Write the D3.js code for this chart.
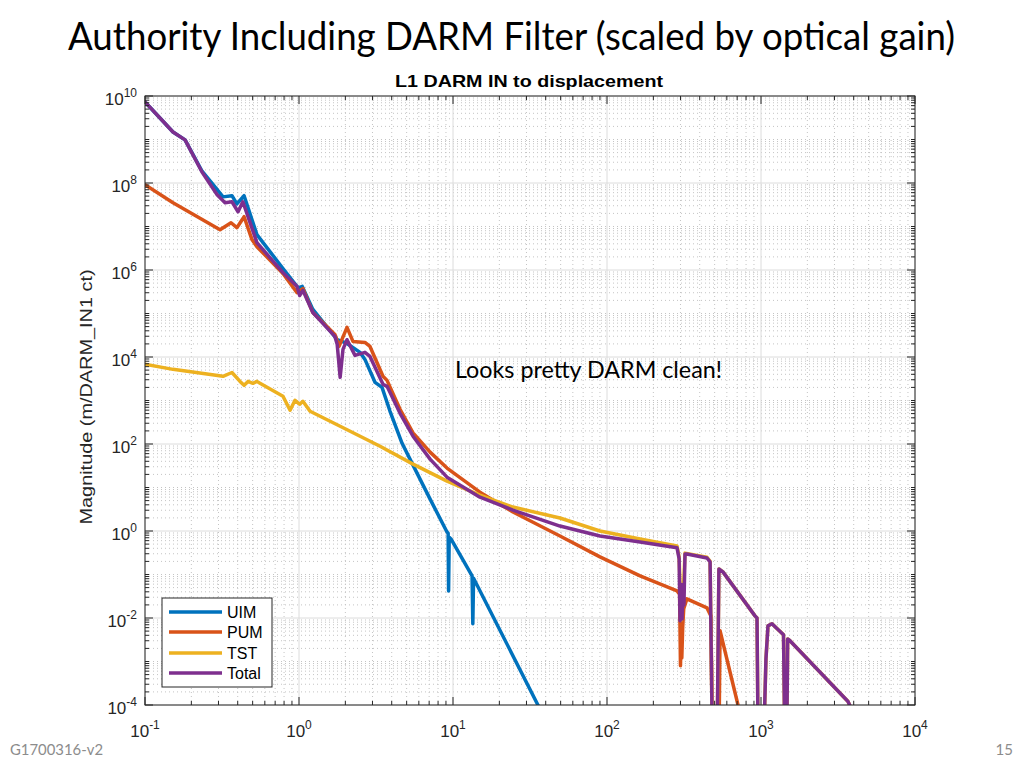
<!DOCTYPE html>
<html><head><meta charset="utf-8">
<script src="https://cdn.jsdelivr.net/npm/d3@7"></script>
<style>body{margin:0;background:#fff;} svg{display:block;}</style>
</head><body>
<svg id="chart" width="1024" height="768"></svg>
<script>
// ---------------- data ----------------
const seriesNames = ["UIM", "PUM", "TST", "Total"];
const seriesColors = ["#0072BD", "#D95319", "#EDB120", "#7E2F8E"];

const uimFreq = [0.1, 0.152, 0.182, 0.234, 0.272, 0.321, 0.367, 0.395, 0.44, 0.533, 0.787, 0.987, 1.05, 1.23, 1.77, 2.05, 2.49, 2.68, 3.12, 3.46, 3.9, 4.67, 5.5, 7.1, 9.14, 9.3, 9.36, 9.45, 9.7, 13.3, 13.45, 13.6, 35.6, 40];
const uimMag  = [7.3e9, 1.49e9, 9.8e8, 1.9e8, 1.0e8, 4.8e7, 5.1e7, 3.3e7, 5.1e7, 6.5e6, 1.08e6, 3.9e5, 4.2e5, 1.24e5, 2.5e4, 2.05e4, 1.28e4, 8.8e3, 2.6e3, 2.0e3, 565, 104, 32.7, 5.4, 0.95, 0.88, 0.042, 0.72, 0.656, 0.093, 0.0074, 0.082, 1e-4, 4.6e-5];

const pumFreq = [0.1, 0.152, 0.307, 0.362, 0.395, 0.44, 0.495, 0.533, 0.787, 0.971, 1.06, 1.23, 1.71, 1.82, 2.05, 2.24, 2.68, 2.89, 3.51, 3.73, 4.53, 5.5, 7.1, 9.14, 14.96, 24.5, 49.5, 90, 164, 285, 296, 300, 303, 306, 310, 315, 330, 446, 473, 488, 530, 542, 709, 753];
const pumMag  = [9.1e7, 3.5e7, 8.4e6, 1.22e7, 9.4e6, 1.68e7, 5.0e6, 3.44e6, 8.3e5, 3.0e5, 3.74e5, 1.05e5, 3.3e4, 1.75e4, 4.8e4, 2.28e4, 2.16e4, 1.75e4, 3.6e3, 2.9e3, 628, 180, 65, 28, 7.8, 2.73, 0.77, 0.254, 0.093, 0.042, 0.035, 8e-4, 0.004, 1.2e-3, 0.006, 0.0163, 0.0275, 0.0171, 0.0112, 1e-6, 1e-6, 0.0051, 1e-4, 4.9e-5];

const tstFreq = [0.1, 0.152, 0.321, 0.367, 0.414, 0.44, 0.467, 0.502, 0.533, 0.558, 0.787, 0.875, 0.942, 1.01, 1.06, 1.18, 1.85, 3.36, 5.5, 9.14, 14.96, 24.5, 49.5, 90, 164, 285, 294, 303, 312, 321, 446, 467, 488, 515, 533, 566, 914, 942, 965, 1020, 1077, 1110, 1178, 1400, 1440, 1460, 1490, 1542, 3673, 3785];
const tstMag  = [6.8e3, 5.2e3, 3.6e3, 4.4e3, 2.75e3, 2.23e3, 2.75e3, 2.48e3, 2.75e3, 2.48e3, 1.25e3, 596, 1.01e3, 819, 960, 565, 256, 89, 34.4, 14, 6.7, 3.55, 1.99, 1.0, 0.656, 0.45, 0.25, 0.009, 0.03, 0.31, 0.25, 0.2, 1e-6, 1e-6, 0.134, 0.115, 0.0112, 0.01, 1e-6, 1e-6, 0.00115, 0.0066, 0.0074, 0.0041, 1e-6, 1e-6, 0.0033, 0.003, 1.2e-4, 9.5e-5];

const totFreq = [0.1, 0.152, 0.182, 0.234, 0.294, 0.331, 0.367, 0.402, 0.432, 0.533, 0.787, 0.971, 1.01, 1.06, 1.23, 1.71, 1.77, 1.85, 1.93, 2.05, 2.31, 2.68, 2.89, 3.51, 3.73, 4.53, 5.5, 7.1, 9.14, 14.96, 24.5, 49.5, 90, 164, 285, 294, 298, 303, 307, 312, 316, 321, 330, 446, 467, 488, 515, 533, 566, 914, 942, 965, 1020, 1077, 1110, 1178, 1400, 1440, 1460, 1490, 1542, 3673, 3785];
const totMag  = [7.3e9, 1.49e9, 9.8e8, 1.81e8, 5.36e7, 3.5e7, 3.7e7, 2.18e7, 3.7e7, 4.25e6, 8.7e5, 4.16e5, 2.6e5, 3.4e5, 1.05e5, 2.97e4, 1.95e4, 3.4e3, 1.5e4, 2.5e4, 1.09e4, 1.28e4, 1.03e4, 2.35e3, 2.12e3, 508, 151, 44.8, 17.3, 6.0, 3.03, 1.30, 0.77, 0.56, 0.41, 0.228, 0.0086, 0.06, 0.0095, 0.05, 0.02, 0.296, 0.296, 0.24, 0.195, 1e-6, 1e-6, 0.134, 0.115, 0.0112, 0.01, 1e-6, 1e-6, 0.00115, 0.0066, 0.0074, 0.0041, 1e-6, 1e-6, 0.0033, 0.003, 1.2e-4, 9.5e-5];

const xTickValues = [0.1, 1, 10, 100, 1000, 10000];
const xTickExps = ["-1", "0", "1", "2", "3", "4"];
const yTickValues = [1e-4, 1e-2, 1, 1e2, 1e4, 1e6, 1e8, 1e10];
const yTickExps = ["-4", "-2", "0", "2", "4", "6", "8", "10"];

const titleText = "Authority Including DARM Filter (scaled by optical gain)";
const subtitleText = "L1 DARM IN to displacement";
const yLabelText = "Magnitude (m/DARM_IN1 ct)";
const noteText = "Looks pretty DARM clean!";
const footLeft = "G1700316-v2";
const footRight = "15";

// ---------------- drawing ----------------
const svg = d3.select("#chart");
const L = 145, R = 915, T = 96, B = 705;
const x = d3.scaleLog().domain([0.1, 1e4]).range([L, R]);
const y = d3.scaleLog().domain([1e-4, 1e10]).range([B, T]);

svg.append("rect").attr("width", 1024).attr("height", 768).attr("fill", "#fff");
svg.append("defs").append("clipPath").attr("id", "plotclip")
  .append("rect").attr("x", L).attr("y", T).attr("width", R - L).attr("height", B - T);

// grid
const xMinor = [];
for (let n = -1; n <= 3; n++) for (let k = 2; k <= 9; k++) xMinor.push(k * Math.pow(10, n));
const yMinor = [];
for (let n = -4; n <= 9; n++) for (let k = 1; k <= 9; k++) {
  if (k === 1 && (n % 2 === 0)) continue;
  yMinor.push(k * Math.pow(10, n));
}
const grid = svg.append("g");
grid.selectAll(".xm").data(xMinor).join("line")
  .attr("x1", d => x(d)).attr("x2", d => x(d)).attr("y1", T).attr("y2", B)
  .attr("stroke", "#c4c4c4").attr("stroke-width", 1).attr("stroke-dasharray", "1,3");
grid.selectAll(".ym").data(yMinor).join("line")
  .attr("y1", d => y(d)).attr("y2", d => y(d)).attr("x1", L).attr("x2", R)
  .attr("stroke", "#c4c4c4").attr("stroke-width", 1).attr("stroke-dasharray", "1,3");
grid.selectAll(".xM").data(xTickValues).join("line")
  .attr("x1", d => x(d)).attr("x2", d => x(d)).attr("y1", T).attr("y2", B)
  .attr("stroke", "#dcdcdc").attr("stroke-width", 1);
grid.selectAll(".yM").data(yTickValues).join("line")
  .attr("y1", d => y(d)).attr("y2", d => y(d)).attr("x1", L).attr("x2", R)
  .attr("stroke", "#dcdcdc").attr("stroke-width", 1);

// lines
const line = d3.line().x(d => x(d[0])).y(d => y(d[1]));
const allSeries = [
  d3.zip(uimFreq, uimMag),
  d3.zip(pumFreq, pumMag),
  d3.zip(tstFreq, tstMag),
  d3.zip(totFreq, totMag)
];
const plot = svg.append("g").attr("clip-path", "url(#plotclip)");
allSeries.forEach((s, i) => {
  plot.append("path").attr("d", line(s)).attr("fill", "none")
    .attr("stroke", seriesColors[i]).attr("stroke-width", 3.5)
    .attr("stroke-linejoin", "round").attr("stroke-linecap", "round");
});

// axes box and ticks (inward, all sides)
const axc = "#262626";
const ax = svg.append("g");
const xAll = xTickValues.concat(xMinor);
const yAll = yTickValues.concat(yMinor);
const isXMaj = d => xTickValues.includes(d);
const isYMaj = d => yTickValues.includes(d);
ax.selectAll(".tb").data(xAll).join("line")
  .attr("x1", d => x(d)).attr("x2", d => x(d)).attr("y1", B).attr("y2", d => B - (isXMaj(d) ? 8 : 4))
  .attr("stroke", axc);
ax.selectAll(".tt").data(xAll).join("line")
  .attr("x1", d => x(d)).attr("x2", d => x(d)).attr("y1", T).attr("y2", d => T + (isXMaj(d) ? 8 : 4))
  .attr("stroke", axc);
ax.selectAll(".tl").data(yAll).join("line")
  .attr("y1", d => y(d)).attr("y2", d => y(d)).attr("x1", L).attr("x2", d => L + (isYMaj(d) ? 8 : 4))
  .attr("stroke", axc);
ax.selectAll(".tr").data(yAll).join("line")
  .attr("y1", d => y(d)).attr("y2", d => y(d)).attr("x1", R).attr("x2", d => R - (isYMaj(d) ? 8 : 4))
  .attr("stroke", axc);
ax.append("rect").attr("x", L).attr("y", T).attr("width", R - L).attr("height", B - T)
  .attr("fill", "none").attr("stroke", axc).attr("stroke-width", 1);

// tick labels
const tf = "'Liberation Sans', Arial, Helvetica, sans-serif";
xTickValues.forEach((v, i) => {
  const t = svg.append("text").attr("x", x(v)).attr("y", 737).attr("text-anchor", "middle")
    .attr("font-family", tf).attr("font-size", 17).attr("fill", axc);
  t.append("tspan").text("10");
  t.append("tspan").attr("dy", -8).attr("font-size", 12).text(xTickExps[i]);
});
yTickValues.forEach((v, i) => {
  const t = svg.append("text").attr("x", 137).attr("y", y(v) + 9).attr("text-anchor", "end")
    .attr("font-family", tf).attr("font-size", 17).attr("fill", axc);
  t.append("tspan").text("10");
  t.append("tspan").attr("dy", -8).attr("font-size", 12).text(yTickExps[i]);
});

// axis label
svg.append("text").attr("transform", "translate(92,397) rotate(-90)")
  .attr("text-anchor", "middle").attr("font-family", tf).attr("font-size", 17)
  .attr("fill", axc).attr("textLength", 255).attr("lengthAdjust", "spacingAndGlyphs").text(yLabelText);

// subtitle
svg.append("text").attr("x", 529).attr("y", 87).attr("text-anchor", "middle")
  .attr("font-family", tf).attr("font-size", 16.5).attr("font-weight", "bold").attr("fill", "#000")
  .attr("textLength", 268).attr("lengthAdjust", "spacingAndGlyphs").text(subtitleText);

// title
svg.append("text").attr("x", 68).attr("y", 50)
  .attr("font-family", "Lato, 'Open Sans', sans-serif").attr("font-size", 38).attr("fill", "#000")
  .attr("textLength", 887).attr("lengthAdjust", "spacingAndGlyphs").text(titleText);

// annotation
svg.append("text").attr("x", 455).attr("y", 378)
  .attr("font-family", "Lato, 'Open Sans', sans-serif").attr("font-size", 23).attr("fill", "#000")
  .attr("textLength", 267).attr("lengthAdjust", "spacingAndGlyphs").text(noteText);

// footer
svg.append("text").attr("x", 10).attr("y", 755)
  .attr("font-family", "Lato, 'Open Sans', sans-serif").attr("font-size", 15).attr("fill", "#8c8c8c")
  .attr("textLength", 93).attr("lengthAdjust", "spacingAndGlyphs").text(footLeft);
svg.append("text").attr("x", 1013).attr("y", 755).attr("text-anchor", "end")
  .attr("font-family", "Lato, 'Open Sans', sans-serif").attr("font-size", 15).attr("fill", "#8c8c8c")
  .text(footRight);

// legend
const lg = svg.append("g");
lg.append("rect").attr("x", 162).attr("y", 598).attr("width", 110).attr("height", 89)
  .attr("fill", "#fff").attr("stroke", axc).attr("stroke-width", 1);
const legY = [612, 632, 653, 673];
seriesNames.forEach((n, i) => {
  lg.append("line").attr("x1", 169).attr("x2", 222).attr("y1", legY[i]).attr("y2", legY[i])
    .attr("stroke", seriesColors[i]).attr("stroke-width", 3.5);
  lg.append("text").attr("x", 227).attr("y", legY[i] + 6).attr("font-family", tf)
    .attr("font-size", 16).attr("fill", "#000").text(n);
});
</script>
</body></html>
